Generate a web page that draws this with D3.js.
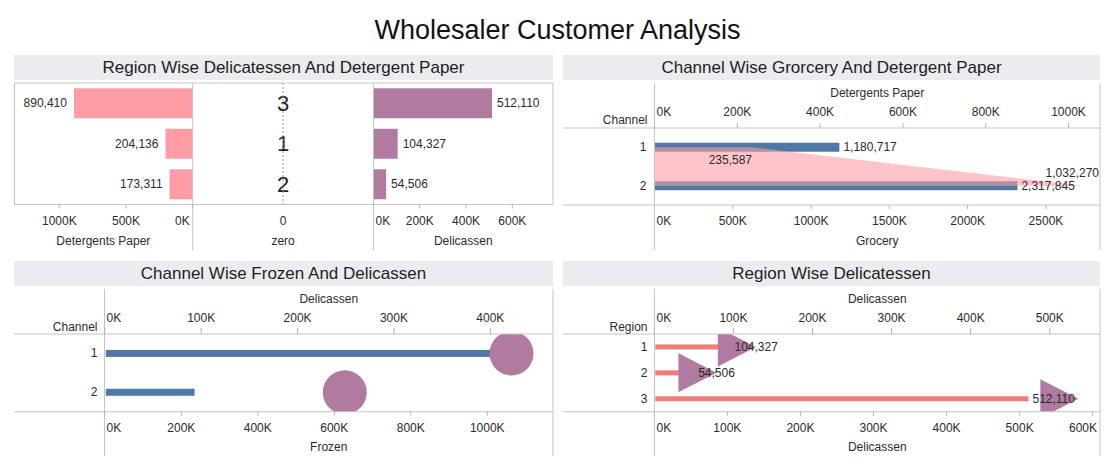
<!DOCTYPE html>
<html><head><meta charset="utf-8">
<script src="https://cdn.jsdelivr.net/npm/d3@7"></script>
<style>
body{margin:0;background:#fff;}
svg text{font-family:"Liberation Sans",Arial,Helvetica,sans-serif;}
</style></head><body>
<svg id="c" width="1115" height="470"></svg>
<script>
// ---------------- data ----------------
const mainTitle = "Wholesaler Customer Analysis";
const panelTitles = ["Region Wise Delicatessen And Detergent Paper","Channel Wise Grorcery And Detergent Paper","Channel Wise Frozen And Delicassen","Region Wise Delicatessen"];

const regions = ["1","2","3"];
const regionRowsSorted = ["3","1","2"];
const regionDetergents = [204136, 173311, 890410];
const regionDelicassen = [104327, 54506, 512110];

const channels = ["1","2"];
const channelGrocery = [1180717, 2317845];
const channelDetergents = [235587, 1032270];
const channelFrozen = [1116979, 234671];
const channelDelicassen = [421955, 248988];

const tlDetTicks = [0, 500000, 1000000];
const tlDeliTicks = [0, 200000, 400000, 600000];
const trDetTicks = [0, 200000, 400000, 600000, 800000, 1000000];
const trGroTicks = [0, 500000, 1000000, 1500000, 2000000, 2500000];
const blDeliTicks = [0, 100000, 200000, 300000, 400000];
const blFroTicks = [0, 200000, 400000, 600000, 800000, 1000000];
const brTopTicks = [0, 100000, 200000, 300000, 400000, 500000];
const brBotTicks = [0, 100000, 200000, 300000, 400000, 500000, 600000];

// axis extents
const tlDetMax = 1340000, tlDeliMax = 775700;
const trGroMax = 2845000, trDetMax = 1076000;
const blFroMax = 1171800, blDeliMax = 465000;
const brTopMax = 563500, brBotMax = 610000;

// ---------------- style ----------------
const BAND = "#ebecf0", LINE = "#c4c4c4", TICK = "#b4b4b4", TXT = "#2b2b2b";
const PINK = "#ff9da7", PURPLE = "#b07aa1", BLUE = "#4e79a7", RED = "#f07c7c";
const fmtK = d => (d / 1000) + "K";
const fmtN = d3.format(",");

const svg = d3.select("#c");

function ln(x1, y1, x2, y2, c = LINE, dash = null) {
  const l = svg.append("line").attr("x1", x1).attr("y1", y1).attr("x2", x2).attr("y2", y2)
    .attr("stroke", c).attr("stroke-width", 1);
  if (dash) l.attr("stroke-dasharray", dash);
  return l;
}
function tx(x, y, s, size = 12, anchor = "middle", color = TXT, parent = svg) {
  return parent.append("text").attr("x", x).attr("y", y).attr("font-size", size)
    .attr("text-anchor", anchor).attr("dominant-baseline", "central").attr("fill", color).text(s);
}
function band(x0, x1, y0, y1, title) {
  svg.append("rect").attr("x", x0).attr("y", y0).attr("width", x1 - x0).attr("height", y1 - y0).attr("fill", BAND);
  tx((x0 + x1) / 2, (y0 + y1) / 2, title, 17, "middle", "#1e1e1e");
}
function axis(scale, ticks, labelY, t0, t1, lo, hi) {
  ticks.forEach(t => {
    const x = scale(t);
    ln(x, t0, x, t1, TICK);
    const el = tx(x, labelY, fmtK(t), 12, "start");
    const w = el.node().getComputedTextLength();
    let sx = x - w / 2;
    sx = Math.max(lo + 2, Math.min(hi - w - 3, sx));
    el.attr("x", sx);
  });
}
function clip(id, x, y, w, h) {
  svg.append("clipPath").attr("id", id).append("rect").attr("x", x).attr("y", y).attr("width", w).attr("height", h);
}

// ---------------- main title ----------------
tx(557.5, 30, mainTitle, 27, "middle", "#111");

// ================= Top-left =================
{
  const L = 14, R = 553, D1 = 192.7, D2 = 373.5, PT = 83, PB = 204.5, AB = 250;
  band(L, R, 55, 80, panelTitles[0]);
  const y = d3.scaleBand().domain(regionRowsSorted).range([PT, PB]).paddingInner(0.26).paddingOuter(0.13);
  const xl = d3.scaleLinear().domain([0, tlDetMax]).range([D1, L]);
  const xr = d3.scaleLinear().domain([0, tlDeliMax]).range([D2, R]);
  const rows = regionRowsSorted.map(r => {
    const i = regions.indexOf(r);
    return { r, det: regionDetergents[i], deli: regionDelicassen[i] };
  });
  // bars
  svg.append("g").selectAll("rect").data(rows).join("rect")
    .attr("x", d => xl(d.det)).attr("y", d => y(d.r)).attr("width", d => xl(0) - xl(d.det))
    .attr("height", y.bandwidth()).attr("fill", PINK);
  svg.append("g").selectAll("rect").data(rows).join("rect")
    .attr("x", xr(0)).attr("y", d => y(d.r)).attr("width", d => xr(d.deli) - xr(0))
    .attr("height", y.bandwidth()).attr("fill", PURPLE);
  rows.forEach(d => {
    const cy = y(d.r) + y.bandwidth() / 2;
    tx(xl(d.det) - 7, cy, fmtN(d.det), 12, "end");
    tx(xr(d.deli) + 5, cy, fmtN(d.deli), 12, "start");
    tx((D1 + D2) / 2, cy, d.r, 22, "middle", "#1e1e1e");
  });
  // lines
  ln(L, PT, R, PT); ln(L, PB, R, PB);
  ln(L + 0.5, PT, L + 0.5, PB); ln(R, PT, R, PB);
  ln(D1, PT, D1, AB); ln(D2, PT, D2, AB);
  ln((D1 + D2) / 2, PT, (D1 + D2) / 2, PB, "#9a9a9a", "2,2");
  // axes
  axis(xl, tlDetTicks, 221, PB, PB + 4, L, D1);
  axis(xr, tlDeliTicks, 221, PB, PB + 4, D2, R);
  tx((D1 + D2) / 2, 221, "0", 12);
  tx((L + D1) / 2, 240.5, "Detergents Paper", 12);
  tx((D1 + D2) / 2, 240.5, "zero", 12);
  tx((D2 + R) / 2, 240.5, "Delicassen", 12);
}

// ================= Top-right =================
{
  const L = 563, R = 1100, V = 654.5, PT = 128, PB = 205, AB = 250;
  band(L, R, 55, 80, panelTitles[1]);
  const yc = d3.scalePoint().domain(channels).range([PT, PB]).padding(0.5);
  const xg = d3.scaleLinear().domain([0, trGroMax]).range([V, R]);
  const xd = d3.scaleLinear().domain([0, trDetMax]).range([V, R]);
  const rows = channels.map((c, i) => ({ c, gro: channelGrocery[i], det: channelDetergents[i] }));
  const bh = 9;
  svg.append("g").selectAll("rect").data(rows).join("rect")
    .attr("x", xg(0)).attr("y", d => yc(d.c) - bh / 2).attr("width", d => xg(d.gro) - xg(0))
    .attr("height", bh).attr("fill", BLUE);
  const area = d3.area().y(d => yc(d.c)).x0(xd(0)).x1(d => xd(d.det));
  svg.append("path").datum(rows).attr("d", area).attr("fill", PINK).attr("fill-opacity", 0.6);
  rows.forEach(d => {
    tx(xg(d.gro) + 4, yc(d.c), fmtN(d.gro), 12, "start");
    tx(V - 8, yc(d.c), d.c, 12, "end");
  });
  // area labels
  tx(xd(rows[0].det), yc(rows[0].c) + 13, fmtN(rows[0].det), 12, "end");
  {
    const el = tx(xd(rows[1].det), yc(rows[1].c) - 12.5, fmtN(rows[1].det), 12, "start");
    const w = el.node().getComputedTextLength();
    el.attr("x", Math.min(xd(rows[1].det) - w / 2, R - w - 1));
  }
  ln(L, PT, R, PT); ln(L, PB, R, PB);
  ln(V, 83, V, AB); ln(R, 83, R, AB);
  tx(V - 7, 120, "Channel", 12, "end");
  axis(xd, trDetTicks, 112, PT - 5, PT, V, R);
  tx((V + R) / 2, 93, "Detergents Paper", 12);
  axis(xg, trGroTicks, 221, PB, PB + 4, V, R);
  tx((V + R) / 2, 240.5, "Grocery", 12);
}

// ================= Bottom-left =================
{
  const L = 14, R = 553, V = 104.5, PT = 334, PB = 411.7, AB = 456;
  band(L, R, 261, 286, panelTitles[2]);
  const yc = d3.scalePoint().domain(channels).range([PT, PB]).padding(0.5);
  const xf = d3.scaleLinear().domain([0, blFroMax]).range([104.8, R]);
  const xd = d3.scaleLinear().domain([0, blDeliMax]).range([104.8, R]);
  const rows = channels.map((c, i) => ({ c, fro: channelFrozen[i], deli: channelDelicassen[i] }));
  clip("clipBL", V, PT, R - V, PB - PT);
  const g = svg.append("g").attr("clip-path", "url(#clipBL)");
  const bh = 7;
  g.selectAll("rect").data(rows).join("rect")
    .attr("x", xf(0) + 1).attr("y", d => yc(d.c) - bh / 2).attr("width", d => xf(d.fro) - xf(0) - 1)
    .attr("height", bh).attr("fill", BLUE);
  g.selectAll("circle").data(rows).join("circle")
    .attr("cx", d => xd(d.deli)).attr("cy", d => yc(d.c)).attr("r", 22).attr("fill", PURPLE);
  rows.forEach(d => tx(V - 7, yc(d.c), d.c, 12, "end"));
  ln(L, PT, R, PT); ln(L, PB, R, PB);
  ln(V, 289, V, AB); ln(R, 289, R, AB);
  tx(V - 7, 326.5, "Channel", 12, "end");
  axis(xd, blDeliTicks, 318, PT - 6, PT, V, R);
  tx((V + R) / 2, 299, "Delicassen", 12);
  axis(xf, blFroTicks, 427.5, PB, PB + 4, V, R);
  tx((V + R) / 2, 447, "Frozen", 12);
}

// ================= Bottom-right =================
{
  const L = 563, R = 1100, V = 654.5, PT = 334, PB = 411.7, AB = 456;
  band(L, R, 261, 286, panelTitles[3]);
  const yc = d3.scalePoint().domain(regions).range([PT, PB]).padding(0.5);
  const xb = d3.scaleLinear().domain([0, brBotMax]).range([654.3, R]);
  const xt = d3.scaleLinear().domain([0, brTopMax]).range([654.3, R]);
  const rows = regions.map((r, i) => ({ r, deli: regionDelicassen[i] }));
  clip("clipBR", V, PT, R - V, PB - PT);
  const g = svg.append("g").attr("clip-path", "url(#clipBR)");
  const bh = 5;
  g.selectAll("rect").data(rows).join("rect")
    .attr("x", xb(0) + 1).attr("y", d => yc(d.r) - bh / 2).attr("width", d => xb(d.deli) - xb(0) - 1)
    .attr("height", bh).attr("fill", RED);
  const hw = 19, hh = 19.5;
  g.selectAll("path").data(rows).join("path")
    .attr("d", d => {
      const cx = xt(d.deli), cy = yc(d.r);
      return `M${cx - hw},${cy - hh}L${cx + hw},${cy}L${cx - hw},${cy + hh}Z`;
    })
    .attr("fill", PURPLE);
  rows.forEach(d => {
    tx(xb(d.deli) + 4, yc(d.r), fmtN(d.deli), 12, "start");
    tx(V - 7, yc(d.r), d.r, 12, "end");
  });
  ln(L, PT, R, PT); ln(L, PB, R, PB);
  ln(V, 289, V, AB); ln(R, 289, R, AB);
  tx(V - 7, 326.5, "Region", 12, "end");
  axis(xt, brTopTicks, 318, PT - 6, PT, V, R);
  tx((V + R) / 2, 299, "Delicassen", 12);
  axis(xb, brBotTicks, 427.5, PB, PB + 4, V, R);
  tx((V + R) / 2, 447, "Delicassen", 12);
}
</script>
</body></html>
